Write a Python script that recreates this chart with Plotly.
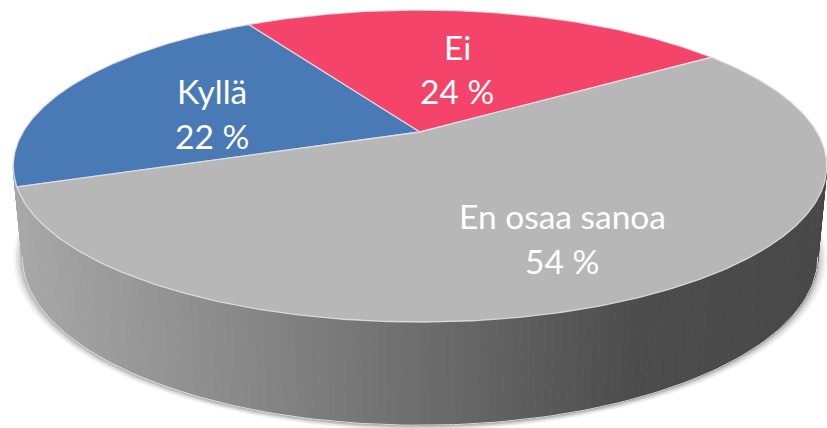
import numpy as np
import plotly.graph_objects as go

# --- data ---
categories = ["Kyllä", "Ei", "En osaa sanoa"]
values = [22, 24, 54]
colors = ["#4a7ab5", "#f54469", "#b7b7b7"]

# --- layout constants (canvas pixels) ---
W, H = 827, 428
START_DEG = -110.0          # clockwise from the far side of the disc
CX, CY = 420.0, 132.0       # projected centre of the disc
A, B, K = 148.6, 397.0, 0.218   # perspective projection of the disc
DEPTH, SX, SY = 88.0, 0.978, 1.08  # lower face of the cylinder
LABEL_POS = [(212, 90.5, 135.5), (457, 46.5, 90.5), (562, 215.5, 260.5)]
WALL_STOPS_X = [15, 200, 420, 640, 827]
WALL_STOPS_G = [168, 142, 109, 76, 72]
FONT = "Lato"
FONT_SIZE = 33.5


def project(theta_deg, r=1.0, lower=False):
    t = np.radians(theta_deg)
    u, v = r * np.sin(t), r * np.cos(t)
    d = 1 + K * v
    x, y = B * u / d, A * v / d
    if lower:
        return CX + SX * x, CY + DEPTH - SY * y
    return CX + x, CY - y


def wall_color(x):
    g = int(round(np.interp(x, WALL_STOPS_X, WALL_STOPS_G)))
    return f"rgb({g},{g},{g})"


fig = go.Figure()


def poly(x, y, fill, line=None, width=0.0):
    fig.add_trace(go.Scatter(
        x=np.asarray(x), y=np.asarray(y), mode="lines", fill="toself",
        fillcolor=fill, hoverinfo="skip", showlegend=False,
        line=dict(color=line or fill, width=width),
    ))


# soft shadow under the cylinder
ring = np.linspace(0, 360, 241)
bx, by = project(ring, lower=True)
for grow, alpha in [(1.022, 0.06), (1.016, 0.08), (1.010, 0.10), (1.005, 0.14)]:
    mx, my = bx.mean(), by.mean()
    poly(mx + (bx - mx) * grow, my + (by - my) * grow + 1, f"rgba(60,60,60,{alpha})")

# cylinder wall, as narrow vertical strips shaded from left to right
edge = np.degrees(np.arccos(-K))
front = np.linspace(edge, 360 - edge, 161)
tx, ty = project(front)
lx, ly = project(front, lower=True)
for i in range(len(front) - 1):
    qx = [tx[i], tx[i + 1], lx[i + 1], lx[i], tx[i]]
    qy = [ty[i], ty[i + 1], ly[i + 1], ly[i], ty[i]]
    c = wall_color((tx[i] + tx[i + 1]) / 2)
    poly(qx, qy, c, c, 0.8)

# light line along the lower rim
fig.add_trace(go.Scatter(x=lx, y=ly, mode="lines", hoverinfo="skip", showlegend=False,
                         line=dict(color="rgba(235,235,235,0.85)", width=1)))

# top face slices, sized from the values
total = sum(values)
angle = START_DEG
for val, col in zip(values, colors):
    span = 360 * val / total
    arc = np.linspace(angle, angle + span, max(8, int(span * 2)))
    ax, ay = project(arc)
    poly(np.r_[CX, ax, CX], np.r_[CY, ay, CY], col, "rgba(226,226,232,0.85)", 1.3)
    angle += span

annotations = []
for name, val, (x, y1, y2) in zip(categories, values, LABEL_POS):
    for text, y in ((name, y1), (f"{val} %", y2)):
        annotations.append(dict(
            x=x, y=y, xref="x", yref="y", text=text, showarrow=False,
            xanchor="center", yanchor="middle",
            font=dict(family=FONT, size=FONT_SIZE, color="white"),
        ))

fig.update_layout(
    width=W, height=H, autosize=False,
    margin=dict(l=0, r=0, t=0, b=0),
    paper_bgcolor="white", plot_bgcolor="white",
    showlegend=False,
    xaxis=dict(range=[0, W], visible=False, fixedrange=True),
    yaxis=dict(range=[H, 0], visible=False, fixedrange=True),
    annotations=annotations,
)
fig.write_html(
    "out.html",
    config={"displayModeBar": False},
    post_script="document.body.style.margin='0';document.documentElement.style.overflow='hidden';",
)
